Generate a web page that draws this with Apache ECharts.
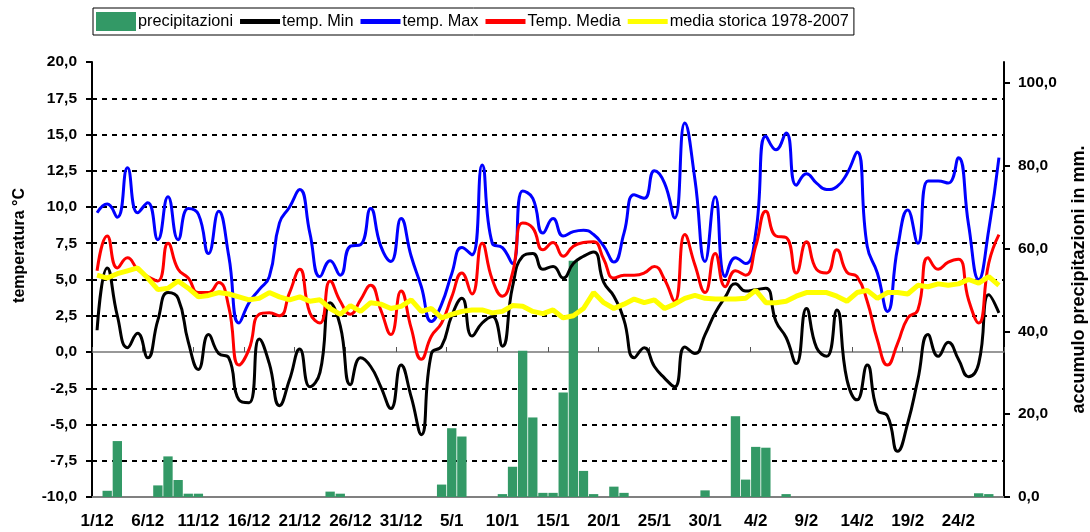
<!DOCTYPE html>
<html>
<head>
<meta charset="utf-8">
<script src="https://cdn.jsdelivr.net/npm/echarts@6/dist/echarts.min.js"></script>
<style>
  html, body { margin: 0; padding: 0; background: #fff; }
  #chart { width: 1090px; height: 532px; }
</style>
</head>
<body>
<div id="chart"></div>
<script>
// giorni 1/12 -> 28/2
const days = [];
const monthLen = [[12, 31], [1, 31], [2, 28]];
monthLen.forEach(([m, n]) => { for (let d = 1; d <= n; d++) days.push(d + '/' + m); });

const precipitazioni = [
  0, 1.5, 13.5, 0, 0, 0, 2.8, 9.8, 4.1, 0.8,
  0.8, 0, 0, 0, 0, 0, 0, 0, 0, 0,
  0, 0, 0, 1.3, 0.8, 0, 0, 0, 0, 0,
  0, 0, 0, 0, 3.0, 16.6, 14.6, 0, 0, 0,
  0.7, 7.3, 35.3, 19.2, 1.0, 1.0, 25.2, 57.0, 6.3, 0.7,
  0, 2.5, 1.0, 0, 0, 0, 0, 0, 0, 0,
  1.6, 0, 0, 19.5, 4.2, 12.1, 11.9, 0, 0.7, 0,
  0, 0, 0, 0, 0, 0, 0, 0, 0, 0,
  0, 0, 0, 0, 0, 0, 0, 0.9, 0.7, 0
];
const tempMin = [
  1.5, 5.8, 2.5, 0.3, 1.3, -0.4, 2.2, 4.1, 3.7, 0.7,
  -1.2, 1.2, -0.1, -0.4, -3.3, -3.5, 0.9, -0.8, -3.7, -1.9,
  0.2, -2.4, -1.4, 3.4, 1.8, -2.25, -0.4, -1.0, -2.4, -3.9,
  -0.9, -3.1, -5.7, -0.1, 0.4, 2.5, 3.7, 1.1, 2.0, 2.45,
  0.4, 4.5, 6.6, 6.8, 5.7, 5.9, 5.1, 6.1, 6.6, 6.9,
  4.8, 3.85, 2.2, -0.4, 0.3, -1.0, -1.8, -2.4, 0.35, -0.1,
  1.2, 2.7, 3.8, 4.7, 4.2, 4.3, 4.4, 2.1, 1.0, -0.8,
  3.0, 0.3, -0.3, 2.9, -1.9, -3.3, -0.9, -4.0, -4.4, -6.85,
  -4.9, -1.9, 1.2, -0.3, 0.67, -0.5, -1.7, -0.8, 3.95, 2.7
];
const tempMax = [
  9.6, 10.2, 9.3, 12.7, 9.6, 10.3, 7.75, 10.7, 7.75, 9.9,
  9.5, 6.8, 9.7, 6.6, 2.0, 3.4, 4.3, 5.2, 8.9, 10.0,
  11.2, 8.2, 5.2, 6.3, 5.3, 7.3, 7.4, 9.9, 7.3, 6.25,
  9.2, 6.6, 4.5, 2.1, 3.3, 5.4, 7.2, 6.7, 12.9, 7.5,
  7.2, 6.1, 11.1, 10.6, 8.2, 9.2, 8.0, 8.3, 8.4, 8.1,
  7.3, 6.2, 8.2, 10.85, 10.6, 12.5, 11.65, 9.25, 15.8, 11.9,
  6.25, 10.7, 5.2, 6.5, 6.1, 8.2, 14.9, 13.95, 15.1, 11.5,
  12.3, 11.65, 11.2, 11.4, 12.3, 13.8, 7.3, 5.45, 2.8, 7.2,
  9.8, 7.5, 11.8, 11.8, 11.65, 13.4, 8.8, 5.0, 8.45, 13.4
];
const tempMedia = [
  5.6, 8.0, 5.8, 6.5, 5.7, 5.2, 4.9, 7.5, 5.7, 5.1,
  4.1, 4.1, 4.8, 3.1, -0.9, 0.2, 2.6, 2.7, 2.5, 4.1,
  5.7, 2.7, 2.0, 4.9, 3.5, 2.6, 3.6, 4.6, 2.9, 1.2,
  4.2, 1.65, -0.5, 1.1, 2.0, 3.8, 5.45, 4.0, 7.5, 5.0,
  3.85, 5.45, 8.9, 8.55, 7.05, 7.55, 6.6, 7.3, 7.55, 7.6,
  6.4, 5.1, 5.3, 5.3, 5.45, 5.9, 5.0, 3.5, 8.1, 6.0,
  4.1, 6.8, 4.5, 5.6, 5.3, 7.3, 9.7, 8.0, 7.9, 5.45,
  7.6, 5.7, 5.45, 7.05, 5.5, 5.2, 3.5, 0.85, -0.9, 0.6,
  2.35, 2.9, 6.5, 5.7, 6.2, 6.4, 3.6, 2.0, 6.15, 8.1
];
const mediaStorica = [
  5.3, 5.1, 5.4, 5.6, 5.8, 5.1, 4.3, 4.4, 4.9, 4.4,
  3.8, 3.9, 4.1, 4.0, 3.8, 3.6, 3.7, 4.1, 3.8, 3.6,
  3.8, 3.5, 3.6, 3.0, 2.6, 3.2, 2.8, 3.4, 3.3, 3.0,
  3.15, 3.6, 2.8, 3.0, 2.35, 2.6, 2.8, 2.9, 2.9, 2.7,
  2.8, 3.2, 3.15, 2.8, 2.65, 2.9, 2.35, 2.5, 3.0, 4.1,
  3.4, 3.0, 3.3, 3.65, 3.4, 3.6, 3.0, 3.3, 3.7, 3.9,
  3.7, 3.65, 3.65, 3.65, 3.7, 4.25, 3.4, 3.4, 3.5, 3.85,
  4.1, 4.1, 4.1, 3.85, 3.5, 4.1, 4.25, 3.7, 4.1, 4.1,
  4.0, 4.6, 4.5, 4.7, 4.6, 4.7, 5.0, 4.75, 5.2, 4.6
];

const FONT = "'Liberation Sans', Arial, sans-serif";
const fmt = v => v.toFixed(1).replace('.', ',');
const lineIcon = 'path://M0 0H40V5H0Z';

// linee tratteggiate: niente su -10, 0 e 20
const gridColors = [];
for (let i = 0; i <= 12; i++) gridColors.push(i === 0 || i === 4 || i === 12 ? 'rgba(0,0,0,0)' : '#000');

const myChart = echarts.init(document.getElementById('chart'));
const option = {
  animation: false,
  textStyle: { fontFamily: FONT },
  legend: {
    left: 93,
    top: 8,
    padding: [4, 5, 4, 3],
    itemGap: 7,
    itemWidth: 40,
    itemHeight: 19,
    borderColor: '#000',
    borderWidth: 1,
    textStyle: { fontFamily: FONT, fontSize: 16.3, color: '#000', padding: [0, 0, 0, -3] },
    data: [
      { name: 'precipitazioni', icon: 'rect' },
      { name: 'temp. Min', icon: lineIcon },
      { name: 'temp. Max', icon: lineIcon },
      { name: 'Temp. Media', icon: lineIcon },
      { name: 'media storica 1978-2007', icon: lineIcon }
    ]
  },
  grid: { left: 92, right: 86, top: 62, bottom: 35, outerBoundsMode: 'none', containLabel: false },
  xAxis: [
    {
      type: 'category',
      data: days,
      boundaryGap: true,
      axisLine: { onZero: false, lineStyle: { color: '#808080', width: 2 } },
      axisTick: { show: false },
      axisLabel: {
        interval: 4, margin: 16, color: '#000',
        fontFamily: FONT, fontWeight: 'bold', fontSize: 17
      },
      splitLine: { show: false }
    },
    {
      type: 'category',
      data: days,
      boundaryGap: true,
      position: 'bottom',
      axisLine: { onZero: true, onZeroAxisIndex: 0, lineStyle: { color: '#777', width: 1.5 } },
      axisTick: { show: true, inside: true, interval: 4, length: 5, lineStyle: { color: '#555', width: 1 } },
      axisLabel: { show: false },
      splitLine: { show: false }
    },
    {
      type: 'category',
      data: days,
      position: 'top',
      axisLine: { lineStyle: { color: '#808080', width: 2 } },
      axisTick: { show: false },
      axisLabel: { show: false }
    }
  ],
  yAxis: [
    {
      type: 'value',
      min: -10,
      max: 20,
      interval: 2.5,
      name: 'temperatura °C',
      nameLocation: 'middle',
      nameRotate: 90,
      nameGap: 64,
      nameTextStyle: { fontFamily: FONT, fontWeight: 'bold', fontSize: 16, color: '#000', padding: [0, 0, 0, 68] },
      axisLine: { show: true, lineStyle: { color: '#000', width: 2 } },
      axisTick: { show: true, length: 6, lineStyle: { color: '#000', width: 2 } },
      axisLabel: {
        formatter: fmt, margin: 15, color: '#000',
        fontFamily: FONT, fontWeight: 'bold', fontSize: 15.5
      },
      splitLine: { show: true, lineStyle: { color: gridColors, width: 2, type: [5, 5] } }
    },
    {
      type: 'value',
      min: 0,
      max: 105,
      interval: 20,
      position: 'right',
      name: 'accumulo precipitazioni in mm.',
      nameLocation: 'middle',
      nameRotate: 90,
      nameGap: 66,
      nameTextStyle: { fontFamily: FONT, fontWeight: 'bold', fontSize: 18, color: '#000' },
      axisLine: { show: true, lineStyle: { color: '#000', width: 2 } },
      axisTick: { show: true, length: 6, lineStyle: { color: '#000', width: 2 } },
      axisLabel: {
        formatter: fmt, margin: 14, color: '#000', showMaxLabel: false,
        fontFamily: FONT, fontWeight: 'bold', fontSize: 15.5
      },
      splitLine: { show: false }
    }
  ],
  series: [
    {
      name: 'precipitazioni',
      type: 'bar',
      yAxisIndex: 1,
      data: precipitazioni,
      barWidth: '92%',
      itemStyle: { color: '#339966' }
    },
    {
      name: 'temp. Min',
      type: 'line',
      data: tempMin,
      smooth: 0.5,
      symbol: 'none',
      lineStyle: { color: '#000', width: 3 },
      itemStyle: { color: '#000' }
    },
    {
      name: 'temp. Max',
      type: 'line',
      data: tempMax,
      smooth: 0.5,
      symbol: 'none',
      lineStyle: { color: '#0000ff', width: 3 },
      itemStyle: { color: '#0000ff' }
    },
    {
      name: 'Temp. Media',
      type: 'line',
      data: tempMedia,
      smooth: 0.5,
      symbol: 'none',
      lineStyle: { color: '#ff0000', width: 3 },
      itemStyle: { color: '#ff0000' }
    },
    {
      name: 'media storica 1978-2007',
      type: 'line',
      data: mediaStorica,
      smooth: false,
      symbol: 'none',
      lineStyle: { color: '#ffff00', width: 5 },
      itemStyle: { color: '#ffff00' }
    }
  ]
};
option && myChart.setOption(option);
</script>
</body>
</html>
